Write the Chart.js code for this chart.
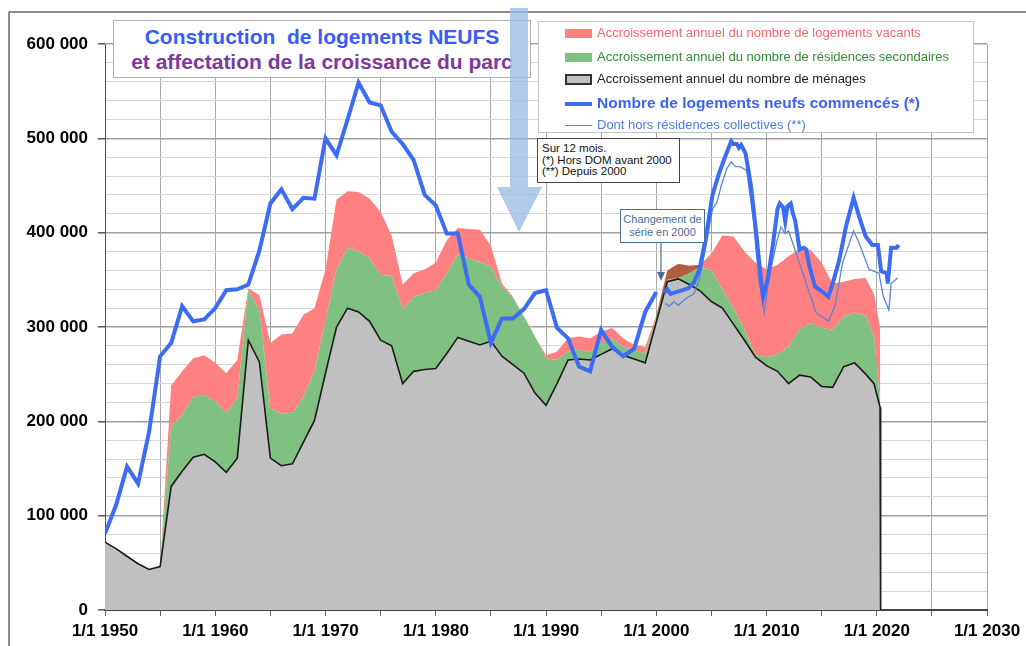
<!DOCTYPE html>
<html>
<head>
    <meta charset="utf-8">
    <title>Construction de logements neufs</title>
    <script src="https://cdn.jsdelivr.net/npm/chart.js@4.4.0/dist/chart.umd.min.js"></script>
    <style>
        body { margin: 0; background: #fff; font-family: "Liberation Sans", Arial, sans-serif; }
        #cadre { position: relative; width: 1026px; height: 646px; overflow: hidden; }
        #graphique { position: absolute; left: 0; top: 0; }
        .boite { position: absolute; background: #fff; box-sizing: border-box; }
        .titre { left: 113px; top: 20px; width: 418px; height: 58px; border: 1px solid #b0b0b0; text-align: center; font-weight: bold; font-size: 21px; line-height: 25px; padding-top: 3px; }
        .legende { left: 538px; top: 21px; width: 436px; height: 112px; border: 1px solid #c4c4c4; }
        .ligne { position: absolute; left: 26px; height: 20px; white-space: nowrap; font-size: 13px; line-height: 20px; }
        .ligne i { display: inline-block; width: 27px; vertical-align: middle; margin-right: 5px; box-sizing: border-box; }
        .note { left: 537px; top: 138px; width: 143px; height: 45px; border: 1.5px solid #444; font-size: 11.5px; line-height: 11.5px; padding: 4px 0 0 4px; color: #111; }
        .changement { left: 620px; top: 209px; width: 85px; height: 34px; border: 1px solid #4c6e96; color: #4c6e96; font-size: 11px; line-height: 13px; text-align: center; padding-top: 3px; }
    </style>
</head>
<body>
<div id="cadre">
    <canvas id="graphique" width="1026" height="646"></canvas>

    <div class="boite titre">
        <span style="color:#3a5cf5">Construction&nbsp; de logements NEUFS</span><br>
        <span style="color:#7a3a9c">et affectation de la croissance du parc</span>
    </div>

    <div class="boite legende">
        <div class="ligne" style="top:1px;color:#f06a6a"><i style="height:9px;background:#ff8080"></i>Accroissement annuel du nombre de logements vacants</div>
        <div class="ligne" style="top:25px;color:#2f8f2f"><i style="height:9px;background:#80c080"></i>Accroissement annuel du nombre de résidences secondaires</div>
        <div class="ligne" style="top:47px;color:#222"><i style="height:11px;background:#c0c0c0;border:2px solid #333"></i>Accroissement annuel du nombre de ménages</div>
        <div class="ligne" style="top:71px;color:#3d63f0;font-weight:bold;font-size:15.5px"><i style="height:4px;background:#3c6cf4"></i>Nombre de logements neufs commencés (*)</div>
        <div class="ligne" style="top:93px;color:#4a7de0"><i style="height:1.5px;background:#5b86d6"></i>Dont hors résidences collectives (**)</div>
    </div>

    <div class="boite note">Sur 12 mois.<br>(*) Hors DOM avant 2000<br>(**) Depuis 2000</div>

    <div class="boite changement">Changement de<br>série en 2000</div>

    <svg width="1026" height="646" style="position:absolute;left:0;top:0;pointer-events:none">
        <line x1="9" y1="12" x2="1026" y2="12" stroke="#666" stroke-width="1.5"/>
        <line x1="9" y1="12" x2="9" y2="646" stroke="#666" stroke-width="1.5"/>
        <polygon points="510,8 528,8 528,187 542,187 519,232 497,187 510,187" fill="rgba(150,185,225,0.75)"/>
        <line x1="661" y1="243" x2="661" y2="273" stroke="#4c6e96" stroke-width="1.2"/>
        <polygon points="657,272 665,272 661,281" fill="#4c6e96"/>
    </svg>
</div>

<script>
    // axe des dates pour les accroissements du parc
    const annees = [1950,1951,1952,1953,1954,1955,1956,1957,1958,1959,
        1960,1961,1962,1963,1964,1965,1966,1967,1968,1969,
        1970,1971,1972,1973,1974,1975,1976,1977,1978,1979,
        1980,1981,1982,1983,1984,1985,1986,1987,1988,1989,
        1990,1991,1992,1993,1994,1995,1996,1997,1998,1999,
        2000,2001,2002,2003,2004,2005,2006,2007,2008,2009,
        2010,2011,2012,2013,2014,2015,2016,2017,2018,2019,
        2019.75,2020.3,2020.35];

    const menages = [72000,65000,57000,49000,43000,46000,131000,147000,162000,165000,
        157000,146000,161000,286000,263000,161000,153000,155000,178000,201000,
        251000,300000,320000,316000,306000,286000,280000,240000,253000,255000,
        256000,272000,289000,285000,281000,285000,269000,260000,251000,230000,
        217000,240000,265000,266000,265000,271000,277000,270000,266000,262000,
        305000,348000,351000,345000,338000,327000,320000,303000,286000,268000,
        259000,253000,240000,249000,247000,237000,236000,258000,262000,250000,
        240000,215000,0];

    const secondaires = [0,0,0,0,0,0,64000,60000,64000,63000,
        64000,63000,64000,53000,55000,53000,55000,54000,48000,52000,
        56000,61000,64000,64000,67000,69000,74000,79000,79000,81000,
        83000,85000,88000,88000,88000,79000,74000,71000,60000,60000,
        50000,25000,9000,10000,9000,12000,11000,9000,10000,10000,
        4000,2000,1000,12000,26000,33000,20000,17000,12000,2000,
        9000,18000,39000,49000,57000,62000,61000,53000,53000,62000,
        50000,7000,0];

    const vacants = [0,0,0,0,0,0,43000,46000,41000,42000,
        41000,42000,40000,2000,16000,69000,84000,84000,87000,67000,
        54000,74000,60000,63000,63000,67000,43000,26000,25000,25000,
        29000,35000,28000,31000,34000,22000,3000,1000,0,0,
        3000,9000,14000,14000,14000,12000,11000,9000,5000,7000,
        3000,10000,15000,8000,2000,18000,57000,76000,82000,98000,
        93000,95000,96000,85000,78000,69000,49000,37000,36000,40000,
        45000,78000,0];

    // logements commencés, série annuelle hors DOM jusqu'en 2000
    const anneesAvant2000 = [1950,1951,1952,1953,1954,1955,1956,1957,1958,1959,
        1960,1961,1962,1963,1964,1965,1966,1967,1968,1969,
        1970,1971,1972,1973,1974,1975,1976,1977,1978,1979,
        1980,1981,1982,1983,1984,1985,1986,1987,1988,1989,
        1990,1991,1992,1993,1994,1995,1996,1997,1998,1999,2000];
    const commencesAvant2000 = [81000,111000,152000,134000,189000,269000,283000,322000,306000,308000,
        320000,339000,340000,345000,381000,431000,446000,425000,437000,436000,
        500000,482000,520000,559000,538000,535000,507000,494000,477000,440000,
        429000,399000,399000,345000,332000,283000,309000,309000,319000,336000,
        339000,299000,288000,258000,253000,297000,279000,269000,277000,316000,337000];

    // cumul sur 12 mois depuis 2000
    const datesDepuis2000 = [2000.7,2001.0,2001.3,2001.8,2002.4,2002.9,2003.4,2003.9,2004.5,2005.1,
        2005.7,2006.3,2006.8,2007.0,2007.3,2007.5,2007.7,2008.1,2008.6,2009.1,
        2009.5,2009.7,2010.1,2010.6,2011.0,2011.2,2011.5,2011.7,2011.9,2012.2,
        2012.4,2012.6,2013.0,2013.4,2013.6,2013.9,2014.4,2015.1,2015.6,2016.0,
        2016.6,2017.2,2017.9,2018.4,2019.0,2019.6,2020.1,2020.4,2020.9,2021.0,
        2021.3,2021.8,2022.0];
    const commencesDepuis2000 = [336000,340000,335000,337000,339000,341000,347000,360000,395000,440000,
        463000,482000,497000,494000,494000,490000,493000,484000,449000,396000,
        350000,332000,350000,389000,425000,431000,427000,412000,428000,431000,
        420000,413000,382000,384000,382000,364000,343000,337000,332000,346000,
        371000,406000,437000,417000,396000,387000,387000,359000,357000,346000,
        384000,384000,387000];

    const datesHorsCollectives = [2000.8,2001.2,2001.6,2002.0,2002.5,2002.9,2003.4,2003.9,2004.5,2005.1,
        2005.5,2005.9,2006.4,2006.8,2007.2,2007.6,2008.2,2008.8,2009.3,2009.8,
        2010.2,2010.9,2011.3,2011.7,2012.0,2012.7,2013.3,2013.9,2014.5,2015.3,
        2015.6,2016.2,2016.9,2017.9,2018.4,2019.3,2020.2,2020.6,2021.1,2021.3,2021.9];
    const horsCollectives = [325000,322000,327000,323000,328000,332000,335000,350000,385000,425000,
        432000,450000,468000,475000,470000,470000,466000,414000,350000,315000,
        350000,389000,406000,399000,402000,378000,357000,336000,315000,309000,
        306000,322000,368000,402000,389000,361000,357000,332000,318000,346000,352000];

    const ticksAnnees = [1950,1960,1970,1980,1990,2000,2010,2020,2030];

    function points(xs, ys) {
        return xs.map((x, i) => ({x: x, y: ys[i]}));
    }
    function milliers(v) {
        return String(v).replace(/\B(?=(\d{3})+(?!\d))/g, ' ');
    }

    const brun = '#b45c3e';
    const policeAxe = {family: "'Liberation Sans', Arial, sans-serif", size: 17, weight: 'bold'};

    const ctx = document.getElementById('graphique').getContext('2d');
    const graphique = new Chart(ctx, {
        type: 'line',
        data: {
            datasets: [
                {
                    label: 'Nombre de logements neufs commencés (*)',
                    data: points(anneesAvant2000, commencesAvant2000),
                    borderColor: '#3c6cf4', borderWidth: 4, stack: 'c1', fill: false
                },
                {
                    label: 'Nombre de logements neufs commencés depuis 2000',
                    data: points(datesDepuis2000, commencesDepuis2000),
                    borderColor: '#3c6cf4', borderWidth: 4, stack: 'c2', fill: false
                },
                {
                    label: 'Dont hors résidences collectives (**)',
                    data: points(datesHorsCollectives, horsCollectives),
                    borderColor: '#5b86d6', borderWidth: 1.3, stack: 'c3', fill: false
                },
                {
                    label: 'Accroissement annuel du nombre de ménages',
                    data: points(annees, menages),
                    borderColor: '#1a1a1a', borderWidth: 1.6,
                    backgroundColor: '#c0c0c0', fill: 'origin', stack: 'parc'
                },
                {
                    label: 'Accroissement annuel du nombre de résidences secondaires',
                    data: points(annees, secondaires),
                    borderWidth: 0, borderColor: 'rgba(0,0,0,0)',
                    backgroundColor: '#80c080', fill: '-1', stack: 'parc'
                },
                {
                    label: 'Accroissement annuel du nombre de logements vacants',
                    data: points(annees, vacants),
                    borderWidth: 0, borderColor: 'rgba(0,0,0,0)',
                    backgroundColor: '#ff8080', fill: '-1', stack: 'parc',
                    segment: {
                        backgroundColor: c => (c.p0.parsed.x >= 2000 && c.p1.parsed.x <= 2004) ? brun : undefined
                    }
                }
            ]
        },
        options: {
            responsive: false,
            animation: false,
            layout: {padding: {left: 0, top: 44, right: 39, bottom: 0}},
            elements: {point: {radius: 0}, line: {tension: 0}},
            plugins: {legend: {display: false}, tooltip: {enabled: false}},
            scales: {
                x: {
                    type: 'linear', min: 1950, max: 2030,
                    afterFit: s => { s.height = 36; },
                    ticks: {
                        stepSize: 5, autoSkip: false, maxRotation: 0, padding: 5,
                        color: '#000', font: policeAxe,
                        callback: v => ticksAnnees.includes(v) ? '1/1 ' + v : ''
                    },
                    grid: {color: '#a8a8a8', lineWidth: 1, tickLength: 6, tickColor: '#666'},
                    border: {color: '#444', width: 2}
                },
                y: {
                    stacked: true, min: 0, max: 600000,
                    afterFit: s => { s.width = 105; },
                    ticks: {
                        stepSize: 20000, autoSkip: false, padding: 10,
                        color: '#000', font: policeAxe,
                        callback: v => v % 100000 === 0 ? milliers(v) : ''
                    },
                    grid: {
                        color: c => c.tick && c.tick.value % 100000 === 0 ? '#a0a0a0' : '#d6d6d6',
                        lineWidth: c => c.tick && c.tick.value % 100000 === 0 ? 1.5 : 1,
                        tickLength: 7,
                        tickColor: c => c.tick && c.tick.value % 100000 === 0 ? '#555' : 'rgba(0,0,0,0)'
                    },
                    border: {color: '#555', width: 1}
                }
            }
        }
    });
</script>
</body>
</html>
